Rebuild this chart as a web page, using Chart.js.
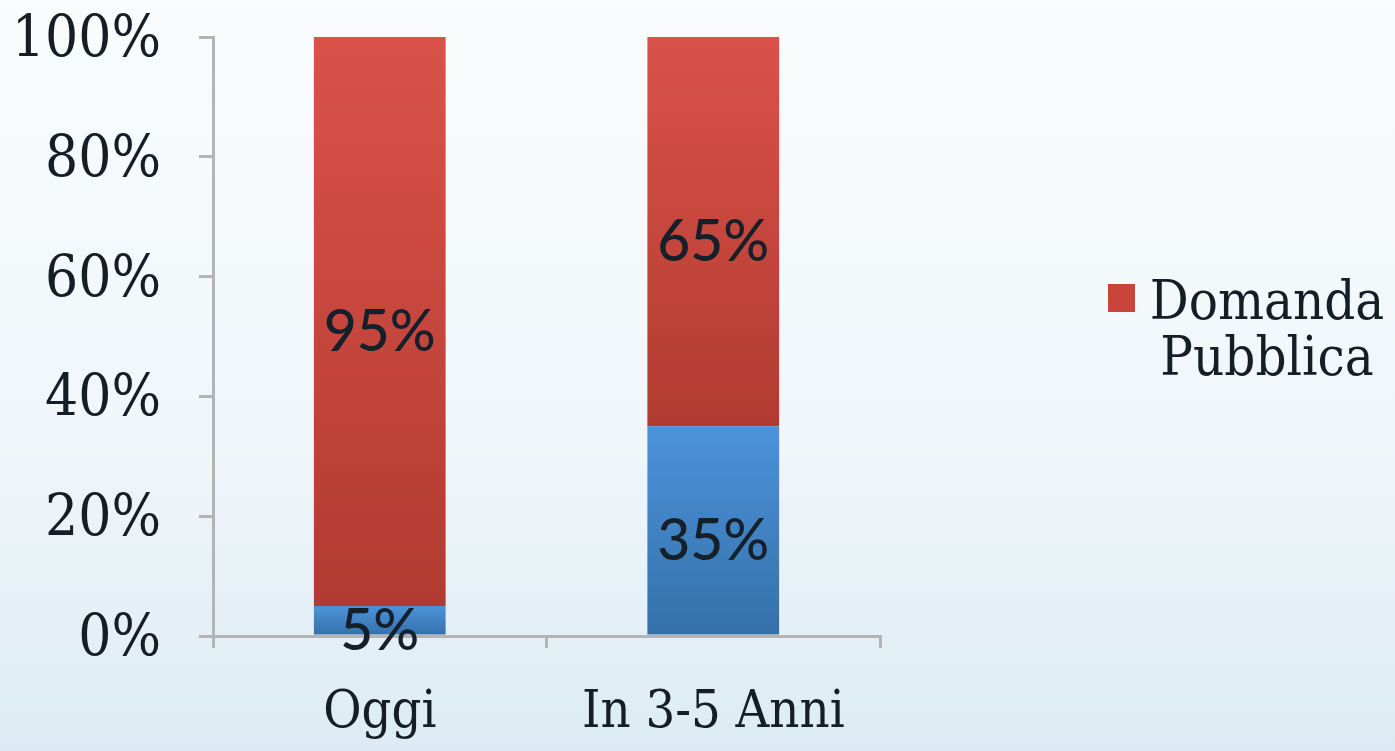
<!DOCTYPE html>
<html>
<head>
<meta charset="utf-8">
<script src="https://cdn.jsdelivr.net/npm/chart.js@4/dist/chart.umd.min.js"></script>
<style>
  html, body { margin: 0; padding: 0; }
  #wrap { width: 1395px; height: 751px; }
</style>
</head>
<body>
<div id="wrap"><canvas id="grafico"></canvas></div>
<script>
const categorie = ['Oggi', 'In 3-5 Anni'];
const domandaPrivata = [5, 35];
const domandaPubblica = [95, 65];
const tickY = [0, 20, 40, 60, 80, 100];

const serif = '"DejaVu Serif Condensed", "DejaVu Serif", serif';

// gradient for each bar segment, light at top and dark at bottom
function gradiente(context, chiaro, scuro, base) {
    const chart = context.chart;
    const y = chart.scales.y;
    if (!chart.chartArea || !y || context.dataIndex === undefined) return chiaro;
    const i = context.dataIndex;
    const b = base(i);
    const top = y.getPixelForValue(b + context.dataset.data[i]);
    const bottom = y.getPixelForValue(b);
    const g = chart.ctx.createLinearGradient(0, top, 0, bottom);
    g.addColorStop(0, chiaro);
    g.addColorStop(1, scuro);
    return g;
}

const sfondo = {
    id: 'sfondo',
    beforeDraw(chart) {
        const ctx = chart.ctx;
        const g = ctx.createLinearGradient(0, 0, 0, chart.height);
        g.addColorStop(0, '#fafcfd');
        g.addColorStop(0.6, '#f0f6fa');
        g.addColorStop(1, '#dcebf3');
        ctx.save();
        ctx.fillStyle = g;
        ctx.fillRect(0, 0, chart.width, chart.height);
        ctx.restore();
    }
};

// percentage labels inside the bars
const etichette = {
    id: 'etichette',
    afterDatasetsDraw(chart) {
        const ctx = chart.ctx;
        ctx.save();
        ctx.font = '500 57px Lato';
        ctx.fillStyle = '#15202b';
        ctx.textAlign = 'center';
        ctx.textBaseline = 'middle';
        chart.data.datasets.forEach((ds, d) => {
            chart.getDatasetMeta(d).data.forEach((bar, i) => {
                const mid = (bar.y + bar.base) / 2;
                ctx.fillText(ds.data[i] + '%', bar.x, mid + 11);
            });
        });
        ctx.restore();
    }
};

// legend with the text on two lines, only the red series as in the original
const legenda = {
    id: 'legenda',
    afterDraw(chart) {
        const ctx = chart.ctx;
        const ds = chart.data.datasets[1];
        ctx.save();
        ctx.fillStyle = '#c9443a';
        ctx.fillRect(1108, 284, 27, 28);
        ctx.font = '54px ' + serif;
        ctx.fillStyle = '#151d26';
        ctx.textAlign = 'center';
        ctx.textBaseline = 'middle';
        ds.label.forEach((riga, k) => {
            ctx.fillText(riga, 1267, 305 + k * 56);
        });
        ctx.restore();
    }
};

new Chart(document.getElementById('grafico'), {
    type: 'bar',
    data: {
        labels: categorie,
        datasets: [
            {
                label: 'Domanda Privata',
                data: domandaPrivata,
                backgroundColor: c => gradiente(c, '#4c93da', '#3470aa', () => 0)
            },
            {
                label: ['Domanda', 'Pubblica'],
                data: domandaPubblica,
                backgroundColor: c => gradiente(c, '#da5249', '#b13b30', i => domandaPrivata[i])
            }
        ]
    },
    options: {
        responsive: true,
        maintainAspectRatio: false,
        animation: false,
        layout: { padding: { top: 37, right: 515, left: 0, bottom: 0 } },
        datasets: { bar: { barPercentage: 0.395, categoryPercentage: 1, borderWidth: 0 } },
        plugins: {
            legend: { display: false },
            tooltip: { enabled: false }
        },
        scales: {
            x: {
                stacked: true,
                afterFit(scale) { scale.height = 115; },
                border: { color: '#b4b4b4', width: 3 },
                grid: { display: true, drawOnChartArea: false, drawTicks: true, tickLength: 12, color: '#b4b4b4', lineWidth: 3, offset: true },
                ticks: { color: '#151d26', font: { family: serif, size: 52 }, padding: 34 }
            },
            y: {
                stacked: true,
                min: 0,
                max: 100,
                afterFit(scale) {
                    scale.width = 213;
                    scale.paddingTop = 0;
                    scale.paddingBottom = 0;
                },
                afterBuildTicks(scale) { scale.ticks = tickY.map(v => ({ value: v })); },
                border: { color: '#b4b4b4', width: 3 },
                grid: { display: true, drawOnChartArea: false, drawTicks: true, tickLength: 14, color: '#b4b4b4', lineWidth: 3 },
                ticks: {
                    color: '#151d26',
                    font: { family: serif, size: 58 },
                    padding: 38,
                    labelOffset: 4,
                    callback: v => v + '%'
                }
            }
        }
    },
    plugins: [sfondo, etichette, legenda]
});
</script>
</body>
</html>
